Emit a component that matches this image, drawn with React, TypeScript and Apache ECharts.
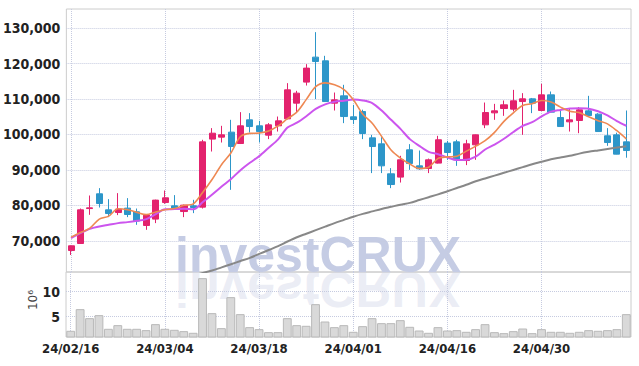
import React, { useEffect, useRef } from "react";
import * as echarts from "echarts";

const dates = [
  "24/02/16", "24/02/19", "24/02/20", "24/02/21", "24/02/22", "24/02/23", "24/02/26", "24/02/27", "24/02/28", "24/02/29",
  "24/03/04", "24/03/05", "24/03/06", "24/03/07", "24/03/08", "24/03/11", "24/03/12", "24/03/13", "24/03/14", "24/03/15",
  "24/03/18", "24/03/19", "24/03/20", "24/03/21", "24/03/22", "24/03/25", "24/03/26", "24/03/27", "24/03/28", "24/03/29",
  "24/04/01", "24/04/02", "24/04/03", "24/04/04", "24/04/05", "24/04/08", "24/04/09", "24/04/11", "24/04/12", "24/04/15",
  "24/04/16", "24/04/17", "24/04/18", "24/04/19", "24/04/22", "24/04/23", "24/04/24", "24/04/25", "24/04/26", "24/04/29",
  "24/04/30", "24/05/02", "24/05/03", "24/05/07", "24/05/08", "24/05/09", "24/05/10", "24/05/13", "24/05/14", "24/05/16",
];

const opens = [
  67260, 69240, 79100, 83260, 78740, 77980, 79220, 78180, 74320, 76120,
  80800, 79870, 78260, 79870, 79500, 98690, 99250, 100660, 97450, 104130,
  102440, 99810, 102440, 104410, 108840, 114770, 121820, 120780, 108840, 110900,
  104980, 106470, 99050, 97360, 88900, 87970, 95670, 91150, 90400, 91920,
  97560, 97920, 92650, 97080, 102720, 106100, 107320, 107150, 109290, 110060,
  106760, 111180, 104790, 103570, 103940, 106670, 105740, 99620, 99900, 97920,
];
const closes = [
  68590, 78740, 79300, 80520, 77700, 78940, 77420, 75560, 77250, 81480,
  82130, 79110, 80060, 79390, 97920, 100360, 99900, 96600, 102440, 102240,
  100830, 102720, 103850, 112590, 111660, 118720, 120580, 109290, 109770, 105060,
  104220, 100270, 96600, 91150, 85880, 92850, 91800, 90310, 92850, 98500,
  94910, 92850, 97360, 99900, 106190, 106670, 108360, 109490, 110060, 108840,
  111180, 106300, 102240, 104130, 106950, 105340, 100830, 97730, 94450, 95470,
];
const lows = [
  66000, 69240, 77330, 79390, 76680, 77250, 76680, 74510, 73100, 74990,
  80440, 78740, 76680, 77810, 79110, 95190, 97730, 84380, 97300, 100550,
  97730, 98690, 100830, 104300, 106020, 113810, 109970, 109200, 106760, 103200,
  102920, 98690, 89100, 89100, 84860, 86440, 90030, 90030, 89100, 91800,
  92850, 91150, 91350, 92850, 101790, 104130, 105260, 106500, 99900, 106020,
  106600, 106200, 102200, 100830, 100360, 105300, 100800, 96800, 94400, 93440,
];
const highs = [
  68700, 79110, 82780, 84860, 81760, 83450, 82040, 79110, 77400, 81600,
  84190, 82890, 80200, 81570, 98500, 101790, 102440, 104130, 106300, 106020,
  103850, 103200, 105060, 114480, 112310, 119840, 128870, 122190, 111830, 114010,
  108360, 107000, 99900, 99250, 90510, 93980, 97270, 95470, 93200, 99620,
  98200, 98500, 98500, 100000, 109010, 108640, 109580, 112590, 111660, 110300,
  114290, 112120, 106900, 107430, 107720, 110900, 106000, 101790, 100500, 106760,
];

// volume in millions of shares
const volumes = [
  2.14, 6.47, 4.67, 5.27, 2.54, 3.27, 2.54, 2.54, 2.27, 3.47,
  2.54, 2.34, 2.07, 1.74, 12.67, 5.67, 2.67, 8.87, 5.47, 2.87,
  2.47, 1.87, 1.87, 4.67, 3.27, 3.14, 7.47, 4.0, 2.87, 3.27,
  1.94, 3.07, 4.67, 3.67, 3.67, 4.27, 2.94, 2.2, 1.74, 2.87,
  2.2, 2.27, 1.94, 2.47, 3.47, 1.87, 1.67, 2.07, 2.6, 1.67,
  2.47, 1.94, 1.94, 1.74, 1.94, 2.27, 2.14, 2.27, 2.47, 5.47,
];

const priceTicks = [70000, 80000, 90000, 100000, 110000, 120000, 130000];
const volumeTicks = [5, 10];

const ma5Head = [71040, 72340, 73580, 76120];
const ma10Head = [70760, 72170, 73380, 74030, 74510, 74990, 75270, 75640, 76120];
const ma60 = [
  null, null, null, null, null, null, null, null, null, null,
  null, null, null, 60100, 60950, 61600, 62500, 63400, 64300, 65200,
  66300, 67400, 68500, 69800, 71000, 72000, 73000, 74000, 75000, 75900,
  76800, 77600, 78300, 79000, 79600, 80200, 80700, 81500, 82300, 83100,
  84000, 84900, 85800, 86800, 87600, 88400, 89200, 90000, 90800, 91600,
  92300, 93000, 93500, 94000, 94600, 95100, 95500, 95900, 96300, 96700,
];

function movingAverage(n: number, head: number[]) {
  return closes.map((_, i) => {
    if (i < n - 1) return head[i];
    let s = 0;
    for (let k = i - n + 1; k <= i; k++) s += closes[k];
    return Math.round(s / n);
  });
}

const LABEL_FONT = "'DejaVu Sans Condensed', 'Liberation Sans', sans-serif";

export default function App() {
  const ref = useRef<HTMLDivElement>(null);
  useEffect(() => {
    if (!ref.current) return;
    const chart = echarts.init(ref.current, undefined, { renderer: "svg" });
    const candles = opens.map((o, i) => [o, closes[i], lows[i], highs[i]]);
    const ma5 = movingAverage(5, ma5Head);
    const ma10 = movingAverage(10, ma10Head);
    const gridColor = "#c6cbe0";
    const wmStyle = { text: "investCRUX", fontSize: 50, fontWeight: "bold", fontFamily: "'Liberation Sans', Arial, sans-serif", verticalAlign: "middle" };
    const labelStyle = { color: "#222", fontWeight: "bold", fontFamily: LABEL_FONT };
    chart.setOption({
      animation: false,
      backgroundColor: "#ffffff",
      grid: [
        { left: 66, right: 8, top: 9, height: 263, show: true, borderColor: "#cccccc", borderWidth: 1 },
        { left: 66, right: 8, top: 272, height: 65, show: true, borderColor: "#cccccc", borderWidth: 1 },
      ],
      graphic: [
        {
          type: "group", x: 175, y: 272, z: 1, silent: true,
          children: [
            { type: "text", x: 0, y: -17, style: { ...wmStyle, fill: "#c5cce4" } },
          ],
        },
        {
          type: "group", x: 175, y: 272, scaleY: -1, z: 1, silent: true,
          children: [
            { type: "text", x: 0, y: -17, style: { ...wmStyle, fill: "rgba(208,213,232,0.42)" } },
          ],
        },
        {
          type: "text", x: 33, y: 300, rotation: Math.PI / 2, z: 5, silent: true,
          style: { text: "10\u2076", fontSize: 12, fill: "#444", fontFamily: "'DejaVu Sans', sans-serif", align: "center", verticalAlign: "middle" },
        },
      ],
      xAxis: [
        {
          type: "category", gridIndex: 0, data: dates, boundaryGap: true,
          axisLine: { show: false }, axisTick: { show: false }, axisLabel: { show: false },
          splitLine: { show: true, interval: 9, alignWithLabel: true, lineStyle: { color: gridColor, type: "dotted" } },
        },
        {
          type: "category", gridIndex: 1, data: dates, boundaryGap: true,
          axisLine: { show: false }, axisTick: { show: false, alignWithLabel: true },
          axisLabel: { interval: 9, margin: 5, fontSize: 13, ...labelStyle },
          splitLine: { show: true, interval: 9, alignWithLabel: true, lineStyle: { color: gridColor, type: "dotted" } },
        },
      ],
      yAxis: [
        {
          type: "value", gridIndex: 0, min: 61200, max: 135400, scale: true,
          axisLine: { show: false },
          axisTick: { show: false, customValues: priceTicks },
          axisLabel: {
            customValues: priceTicks, margin: 6, fontSize: 14, ...labelStyle,
            formatter: (v: number) => v.toLocaleString("en-US"),
          },
          splitLine: { show: true, lineStyle: { color: gridColor, type: "dotted" } },
        },
        {
          type: "value", gridIndex: 1, min: 0.9, max: 13.9,
          axisLine: { show: false },
          axisTick: { show: false, customValues: volumeTicks },
          axisLabel: {
            customValues: volumeTicks, margin: 6, fontSize: 14, ...labelStyle,
            showMinLabel: true, showMaxLabel: true,
            formatter: (v: number) => String(v),
          },
          splitLine: { show: true, lineStyle: { color: gridColor, type: "dotted" } },
        },
      ],
      series: [
        {
          type: "candlestick", xAxisIndex: 0, yAxisIndex: 0, data: candles, barWidth: "70%",
          itemStyle: { color: "#e3226d", color0: "#2d96c9", borderColor: "#e3226d", borderColor0: "#2d96c9", borderWidth: 1 },
        },
        {
          type: "line", xAxisIndex: 0, yAxisIndex: 0, data: ma60, symbol: "none", smooth: 0.3,
          lineStyle: { color: "#888888", width: 2 }, z: 3,
        },
        {
          type: "line", xAxisIndex: 0, yAxisIndex: 0, data: ma10, symbol: "none", smooth: 0.3,
          lineStyle: { color: "#cc55ee", width: 2 }, z: 3,
        },
        {
          type: "line", xAxisIndex: 0, yAxisIndex: 0, data: ma5, symbol: "none", smooth: 0.3,
          lineStyle: { color: "#ee8852", width: 1.6 }, z: 4,
        },
        {
          type: "bar", xAxisIndex: 1, yAxisIndex: 1, data: volumes, barCategoryGap: "6%",
          itemStyle: { color: "#d9d9d9", borderColor: "#b9b9b9", borderWidth: 1 },
        },
      ],
    });
    return () => chart.dispose();
  }, []);
  return <div ref={ref} style={{ position: "fixed", left: 0, top: 0, width: 639, height: 366 }} />;
}
